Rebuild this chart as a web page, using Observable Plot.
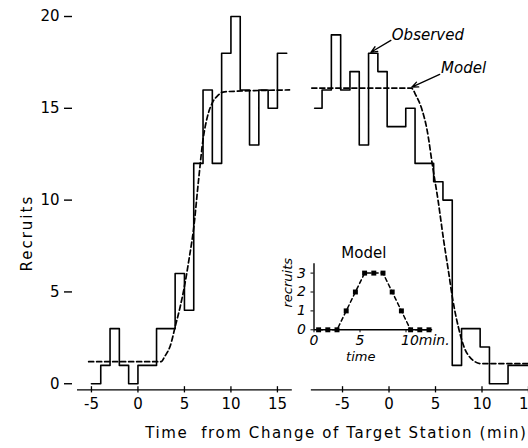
<!DOCTYPE html>
<html>
<head>
<meta charset="utf-8">
<script src="https://cdn.jsdelivr.net/npm/d3@7"></script>
<script src="https://cdn.jsdelivr.net/npm/@observablehq/plot@0.6"></script>
<style>
  html, body { margin: 0; padding: 0; background: white; overflow: hidden; }
  #wrap { position: relative; width: 528px; height: 448px; overflow: hidden; }
  #inset { position: absolute; left: 270px; top: 240px; }
  .xlabel text { letter-spacing: 1.6px; white-space: pre; }
  .ylabel text { letter-spacing: 2px; }
</style>
</head>
<body>
<div id="wrap"><div id="main"></div><div id="inset"></div></div>
<script>
// ---- Data ----
// Left panel: observed recruits per 1-min bin (bin edges in minutes)
const leftEdges = [-5,-4,-3,-2,-1,0,1,2,3,4,5,6,7,8,9,10,11,12,13,14,15,16];
const leftObserved = [0,1,3,1,0,1,1,3,3,6,4,12,16,12,18,20,16,13,16,15,18];
// Left panel: model curve
const leftModelX = [-5.3, 2.5, 2.9, 3.5, 4.0, 4.5, 5.0, 5.5, 6.0, 6.5, 7.0, 7.5, 8.0, 8.6, 9.3, 16.3];
const leftModelY = [1.2, 1.2, 1.5, 2.1, 3.1, 4.1, 5.3, 6.8, 8.5, 11.0, 13.3, 14.6, 15.3, 15.7, 15.9, 16.0];

// Right panel: observed recruits (bin edges in minutes)
const rightEdges = [-8.0,-7.2,-6.2,-5.2,-4.2,-3.2,-2.2,-1.2,-0.2,1.8,2.8,4.8,5.8,6.8,7.8,9.8,10.8,12.8,15.5];
const rightObserved = [15,16,19,16,17,13,18,17,14,15,12,11,10,1,3,2,0,1];
// Right panel: model curve
const rightModelX = [-8.3, 2.4, 2.9, 3.5, 4.1, 4.7, 5.3, 5.85, 6.4, 6.85, 7.45, 8.15, 8.6, 9.1, 9.8, 15.5];
const rightModelY = [16.1, 16.1, 15.7, 15.0, 13.8, 11.8, 9.9, 7.9, 6.1, 4.6, 3.1, 1.9, 1.5, 1.25, 1.1, 1.1];

// Axes
const xTicks = [-5, 0, 5, 10, 15];
const yTicks = [0, 5, 10, 15, 20];
const leftAxisExtent = [-6.5, 16.6];
const rightAxisExtent = [-8.35, 15.5];

// Annotations (right-panel coordinates)
const annLabels = ["Observed", "Model"];
const annTextX = [0.3, 5.6];
const annTextY = [18.96, 17.16];
const annFromX = [0.2, 5.45];
const annFromY = [18.7, 16.85];
const annToX = [-1.95, 2.45];
const annToY = [18.05, 16.15];

// Inset: model recruits per minute
const insetTime = [0.5,1.5,2.5,3.5,4.5,5.5,6.5,7.5,8.5,9.5,10.5,11.5,12.5];
const insetRecruits = [0,0,0,1,2,3,3,3,2,1,0,0,0];
const insetXTicks = [0, 5, 10];
const insetYTicks = [0, 1, 2, 3];

// ---- Layout constants ----
const OFFSET = 27;        // right panel placed after left panel on shared x scale
const AXIS_Y = -0.33;     // baseline of the x axis (slightly below zero)

const steps = (edges, vals, off) => {
  const pts = vals.map((v, i) => ({x: edges[i] + off, y: v}));
  pts.push({x: edges[edges.length - 1] + off, y: vals[vals.length - 1]});
  return pts;
};
const curve = (xs, ys, off) => xs.map((x, i) => ({x: x + off, y: ys[i]}));

const leftStep = steps(leftEdges, leftObserved, 0);
const rightStep = steps(rightEdges, rightObserved, OFFSET);
const leftModel = curve(leftModelX, leftModelY, 0);
const rightModel = curve(rightModelX, rightModelY, OFFSET);
const allTicks = [...xTicks, ...xTicks.map(t => t + OFFSET)];
const panels = [
  {start: leftAxisExtent[0], end: leftAxisExtent[1]},
  {start: rightAxisExtent[0] + OFFSET, end: rightAxisExtent[1] + OFFSET}
];
const ann = annLabels.map((l, i) => ({
  label: l, tx: annTextX[i] + OFFSET, ty: annTextY[i],
  x1: annFromX[i] + OFFSET, y1: annFromY[i], x2: annToX[i] + OFFSET, y2: annToY[i]
}));

const font = "DejaVu Sans, sans-serif";

const main = Plot.plot({
  width: 528, height: 448,
  marginLeft: 77, marginRight: 0, marginTop: 16, marginBottom: 58.7,
  x: {domain: [-6.5, 42]},
  y: {domain: [AXIS_Y, 20]},
  style: {fontFamily: font, fontSize: "15px", background: "white", color: "black", overflow: "hidden"},
  marks: [
    Plot.ruleY(panels, {y: AXIS_Y, x1: "start", x2: "end", stroke: "black", strokeWidth: 1.3}),
    Plot.ruleX(allTicks, {x: d => d, y1: AXIS_Y - 0.17, y2: AXIS_Y + 0.17, stroke: "black", strokeWidth: 1.3}),
    Plot.axisX({ticks: allTicks, tickSize: 0, tickPadding: 9, label: null, fontSize: 15,
      tickFormat: d => String(d > 19 ? d - OFFSET : d)}),
    Plot.axisY({ticks: yTicks, tickSize: 8, tickPadding: 5, dx: -5, label: null, fontSize: 15, strokeWidth: 1.4,
      tickFormat: d => String(d)}),
    Plot.line(leftStep, {x: "x", y: "y", curve: "step-after", stroke: "black", strokeWidth: 1.6}),
    Plot.line(rightStep, {x: "x", y: "y", curve: "step-after", stroke: "black", strokeWidth: 1.6}),
    Plot.line(leftModel, {x: "x", y: "y", curve: "monotone-x", stroke: "black", strokeWidth: 1.7, strokeDasharray: "5,3"}),
    Plot.line(rightModel, {x: "x", y: "y", curve: "monotone-x", stroke: "black", strokeWidth: 1.7, strokeDasharray: "5,3"}),
    Plot.arrow(ann, {x1: "x1", y1: "y1", x2: "x2", y2: "y2", stroke: "black", strokeWidth: 1.3, headLength: 8, headAngle: 45}),
    Plot.text(ann, {x: "tx", y: "ty", text: "label", textAnchor: "start", fontStyle: "italic", fontSize: 15}),
    Plot.text(["Recruits"], {text: d => d, frameAnchor: "left", textAnchor: "middle", lineAnchor: "middle",
      dx: -50, dy: 30, rotate: -90, fontSize: 15, className: "ylabel"}),
    Plot.text(["Time  from Change of Target Station (min)"], {text: d => d, frameAnchor: "bottom-right",
      textAnchor: "end", lineAnchor: "middle", dx: -1, dy: 43, fontSize: 15, className: "xlabel"})
  ]
});
document.getElementById("main").appendChild(main);

const insetData = insetTime.map((t, i) => ({t, r: insetRecruits[i]}));
const inset = Plot.plot({
  width: 200, height: 130,
  marginLeft: 43.5, marginRight: 36.9, marginTop: 23.15, marginBottom: 40.7,
  x: {domain: [0, 13]},
  y: {domain: [0, 3.5]},
  style: {fontFamily: font, fontSize: "13px", background: "transparent", color: "black", overflow: "visible"},
  marks: [
    Plot.line(insetData, {x: "t", y: "r", stroke: "black", strokeWidth: 1.5, strokeDasharray: "4,3"}),
    Plot.ruleY([0], {x1: 0, x2: 12.9, stroke: "black", strokeWidth: 1.4}),
    Plot.ruleX([0], {y1: 0, y2: 3.5, stroke: "black", strokeWidth: 1.4}),
    Plot.dot(insetData, {x: "t", y: "r", symbol: "square", r: 2.8, fill: "black", stroke: "none"}),
    Plot.axisY({ticks: insetYTicks, tickSize: 3, tickPadding: 5, label: null, fontStyle: "italic", fontSize: 14,
      tickFormat: d => String(d)}),
    Plot.axisX({ticks: insetXTicks, tickSize: 3, tickPadding: 2, label: null, fontStyle: "italic", fontSize: 14,
      tickFormat: d => d === 10 ? "" : String(d)}),
    Plot.text(insetXTicks.filter(d => d === 10), {x: d => d, text: d => d + "min.", frameAnchor: "bottom",
      textAnchor: "start", lineAnchor: "middle", dx: -5, dy: 11, fontStyle: "italic", fontSize: 14}),
    Plot.text(["time"], {text: d => d, frameAnchor: "bottom", textAnchor: "middle", lineAnchor: "middle",
      dx: -13, dy: 27, fontStyle: "italic", fontSize: 13}),
    Plot.text(["Model"], {text: d => d, frameAnchor: "top", textAnchor: "middle", lineAnchor: "middle",
      dx: -10, dy: -10, fontSize: 15}),
    Plot.text(["recruits"], {text: d => d, frameAnchor: "left", textAnchor: "middle", lineAnchor: "middle",
      dx: -26.5, dy: -14, rotate: -90, fontStyle: "italic", fontSize: 13})
  ]
});
document.getElementById("inset").appendChild(inset);
</script>
</body>
</html>
